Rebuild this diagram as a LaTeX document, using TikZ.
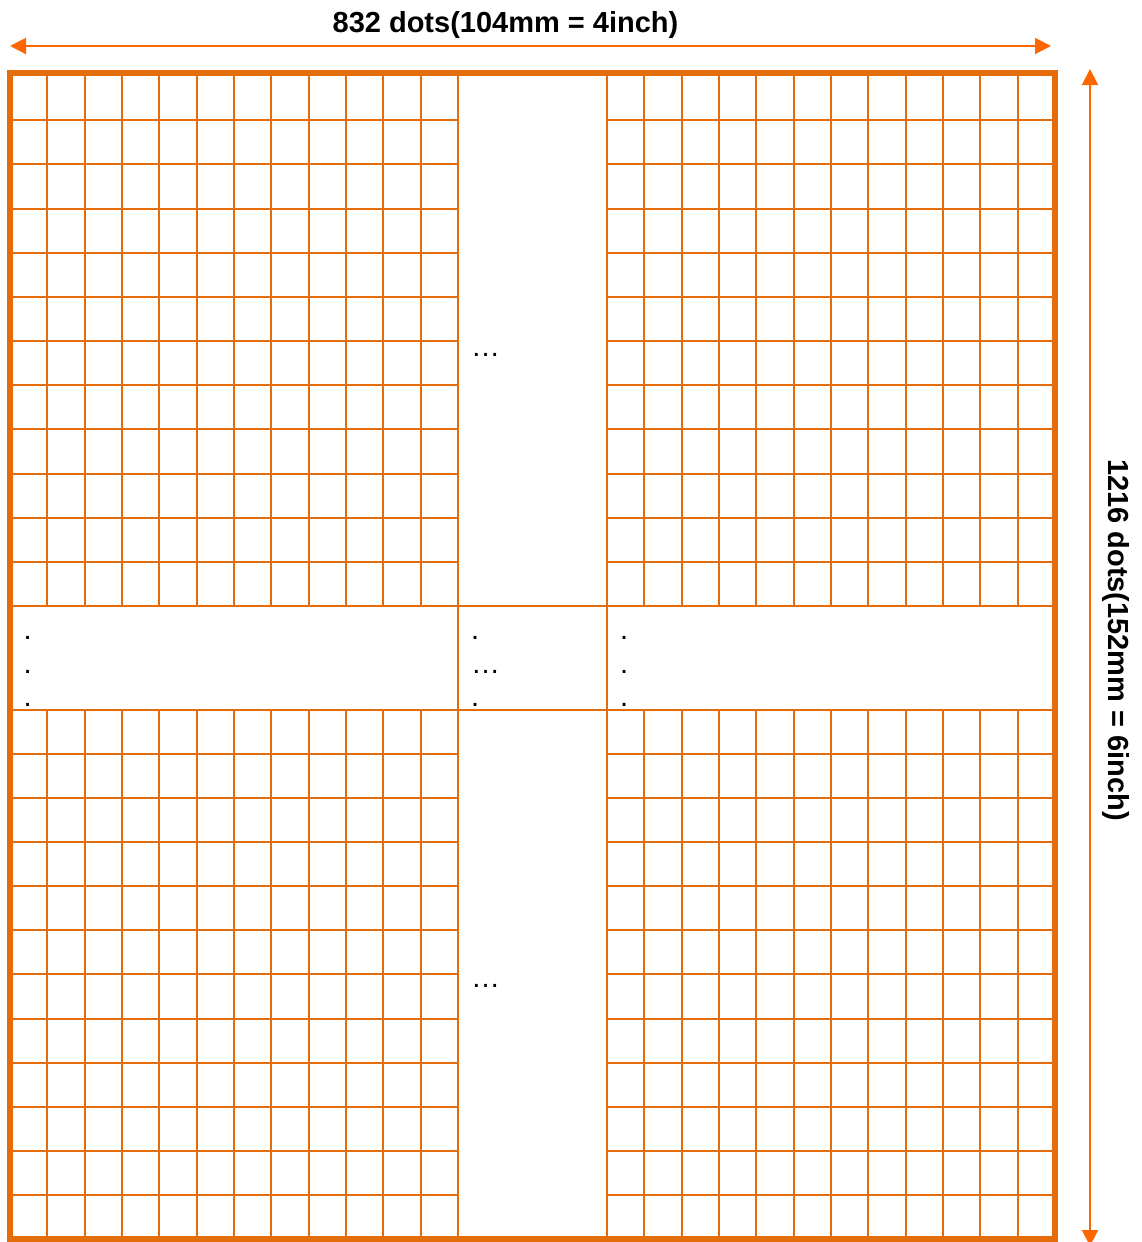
\documentclass[tikz,border=0pt]{standalone}
\usepackage{fontspec}
\setmainfont{Liberation Sans}
\usetikzlibrary{arrows.meta}
\definecolor{gridor}{RGB}{228,108,10}
\definecolor{arrowor}{RGB}{255,102,0}

\begin{document}
\begin{tikzpicture}[x=1pt, y=-1pt,
        g/.style={gridor, line width=2pt},
        frame/.style={gridor, line width=6pt},
        dim/.style={{Triangle[length=16pt,width=16pt]}-{Triangle[length=16pt,width=16pt]}, arrowor, line width=2pt},
        lbl/.style={font=\bfseries\fontsize{29}{34}\selectfont, inner sep=0pt},
        dt/.style={font=\fontsize{29}{34}\selectfont, inner sep=0pt, anchor=base west}]
      \useasboundingbox (0,0) rectangle (1141,1242);
      % cell blocks, left and right
      \foreach \x in {10,607} {
        \foreach \i in {1,...,11} {
          \draw[g] (\x+37.33*\i,73) -- (\x+37.33*\i,606);
          \draw[g] (\x+37.33*\i,710) -- (\x+37.33*\i,1239);
        }
        \foreach \j in {1,...,11} {
          \draw[g] (\x,76+44.17*\j) -- (\x+448,76+44.17*\j);
          \draw[g] (\x,710+44.08*\j) -- (\x+448,710+44.08*\j);
        }
      }
      \draw[g] (458,73) -- (458,1239);
      \draw[g] (607,73) -- (607,1239);
      \draw[g] (10,606) -- (1055,606);
      \draw[g] (10,710) -- (1055,710);
      \draw[frame] (10,73) rectangle (1055,1239);
      % elided rows and columns
      \foreach \y [count=\k] in {639.5,673.5,706.5} {
        \node[dt] (ldot\k) at (23.5,\y) {.};
        \node[dt] (rdot\k) at (620,\y) {.};
      }
      \node[dt] (mdot1) at (471,639.5) {.};
      \node[dt] (mdots) at (471,673.5) {…};
      \node[dt] (mdot3) at (471,706.5) {.};
      \node[dt] (topdots) at (471,356.5) {…};
      \node[dt] (botdots) at (471,987.5) {…};
      % dimensions
      \node[lbl] (wlabel) at (505.5,25) {832 dots(104mm = 4inch)};
      \node[lbl, rotate=-90] (hlabel) at (1116,640) {1216 dots(152mm = 6inch)};
      \coordinate (wl) at (10,46);
      \coordinate (wr) at (1051,46);
      \coordinate (ht) at (1090,69);
      \coordinate (hb) at (1090,1246);
      \draw[dim] (wl) -- (wr);
      \draw[dim] (ht) -- (hb);
    \end{tikzpicture}
\end{document}
